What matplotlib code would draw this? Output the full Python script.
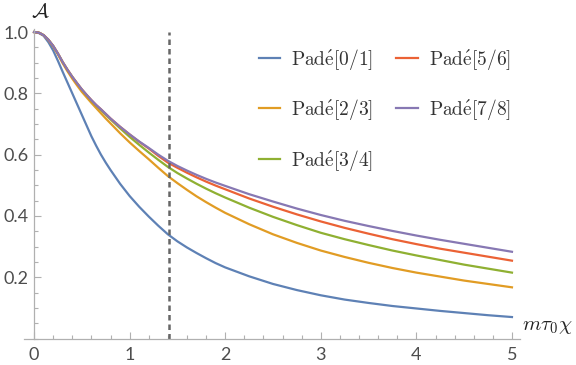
import numpy as np
import matplotlib
matplotlib.use("Agg")
import matplotlib.pyplot as plt
from matplotlib.ticker import MultipleLocator

plt.rcParams['mathtext.fontset'] = 'cm'

# values
x_vals = [0.0, 0.05, 0.1, 0.15, 0.2, 0.25, 0.3, 0.35, 0.4, 0.45, 0.5, 0.55, 0.6, 0.65, 0.7, 0.75, 0.8,
          0.9,
          1.0, 1.1, 1.2, 1.3, 1.4, 1.5, 1.6, 1.7, 1.8, 1.9, 2.0,
          2.25, 2.5, 2.75, 3.0, 3.25, 3.5, 3.75, 4.0, 4.25, 4.5, 4.75, 5.0]

pade_0_1 = [1.0, 0.997, 0.988, 0.967, 0.940, 0.906, 0.870, 0.835, 0.800, 0.765, 0.730, 0.695, 0.660, 0.629, 0.600, 0.574, 0.550,
            0.505,
            0.465, 0.430, 0.398, 0.368, 0.340, 0.317, 0.297, 0.279, 0.262, 0.246, 0.232,
            0.203, 0.178, 0.158, 0.141, 0.127, 0.116, 0.106, 0.098, 0.090, 0.083, 0.076, 0.070]
pade_2_3 = [1.0, 0.998, 0.990, 0.974, 0.953, 0.927, 0.898, 0.872, 0.848, 0.826, 0.805, 0.787, 0.769, 0.752, 0.735, 0.718, 0.702,
            0.670,
            0.640, 0.612, 0.585, 0.557, 0.530, 0.507, 0.485, 0.464, 0.445, 0.427, 0.410,
            0.373, 0.340, 0.312, 0.287, 0.266, 0.247, 0.230, 0.215, 0.202, 0.189, 0.178, 0.167]
pade_3_4 = [1.0, 0.998, 0.990, 0.975, 0.955, 0.930, 0.902, 0.877, 0.854, 0.833, 0.812, 0.794, 0.776, 0.760, 0.745, 0.730, 0.715,
            0.686,
            0.658, 0.632, 0.607, 0.583, 0.560, 0.540, 0.522, 0.505, 0.489, 0.474, 0.460,
            0.427, 0.397, 0.370, 0.345, 0.324, 0.305, 0.287, 0.271, 0.256, 0.241, 0.228, 0.215]
pade_5_6 = [1.0, 0.998, 0.990, 0.975, 0.955, 0.930, 0.902, 0.877, 0.854, 0.833, 0.813, 0.795, 0.778, 0.762, 0.748, 0.733, 0.718,
            0.691,
            0.666, 0.642, 0.620, 0.596, 0.574, 0.557, 0.541, 0.526, 0.512, 0.499, 0.487,
            0.457, 0.430, 0.405, 0.382, 0.361, 0.342, 0.324, 0.308, 0.293, 0.280, 0.267, 0.254]
pade_7_8 = [1.0, 0.998, 0.990, 0.975, 0.955, 0.930, 0.902, 0.877, 0.854, 0.833, 0.813, 0.795, 0.778, 0.762, 0.748, 0.733, 0.718,
            0.691,
            0.666, 0.643, 0.622, 0.600, 0.580, 0.563, 0.548, 0.534, 0.521, 0.509, 0.498,
            0.471, 0.447, 0.424, 0.403, 0.384, 0.367, 0.351, 0.336, 0.322, 0.309, 0.296, 0.283]

orders = ['0/1', '2/3', '3/4', '5/6', '7/8']
series = [pade_0_1, pade_2_3, pade_3_4, pade_5_6, pade_7_8]
colors = ['#5E81B5', '#E19C24', '#8FB032', '#EB6235', '#8778B3']

dashed_x = 1.414
x_ticks = [0, 1, 2, 3, 4, 5]
y_ticks = [0.2, 0.4, 0.6, 0.8, 1.0]

fig = plt.figure(figsize=(5.76, 3.65), dpi=100)
ax = fig.add_axes([24 / 576, 1 - 338.5 / 365, 496 / 576, 309.5 / 365])

for ys, order, c in zip(series, orders, colors):
    mlab = r'$\mathrm{Pad}\acute{\mathrm{e}}\mathrm{[' + order + r']}$'
    ax.plot(x_vals, ys, color=c, lw=1.6, label=mlab, solid_joinstyle='round')

ax.axvline(dashed_x, ymin=0, ymax=1.0 / 1.01, color='#666666', lw=1.8,
           linestyle=(0, (2.2, 1.6)))

ax.set_xlim(-0.105, 5.084)
ax.set_ylim(0, 1.01)

for s in ['top', 'right']:
    ax.spines[s].set_visible(False)
ax.spines['left'].set_position(('data', 0))
ax.spines['bottom'].set_position(('data', 0))
for s in ['left', 'bottom']:
    ax.spines[s].set_color('#b0b0b0')
    ax.spines[s].set_linewidth(0.9)

ax.set_xticks(x_ticks)
ax.set_yticks(y_ticks)
ax.set_yticklabels([f'{v:.1f}' for v in y_ticks])
ax.xaxis.set_minor_locator(MultipleLocator(0.2))
ax.yaxis.set_minor_locator(MultipleLocator(0.05))
ax.tick_params(which='both', direction='in', color='#b0b0b0', width=0.8,
               labelsize=13, labelcolor='#4d4d4d')
ax.tick_params(which='major', length=5)
ax.tick_params(which='minor', length=3)
ax.tick_params(axis='x', pad=6)
ax.tick_params(axis='y', pad=4)
for t in ax.get_xticklabels() + ax.get_yticklabels():
    t.set_fontfamily('Lato')

fig.text(40 / 576, 1 - 12 / 365, r'$\mathcal{A}$', fontsize=15,
         ha='center', va='center', color='#222222')
fig.text(522 / 576, 1 - 326 / 365, r'$m\tau_0\chi$', fontsize=15,
         ha='left', va='center', color='#222222')

leg = ax.legend(loc='upper left', bbox_to_anchor=(259 / 576, 1 - 47 / 365),
                bbox_transform=fig.transFigure, ncol=2, frameon=False,
                fontsize=14, handlelength=1.1, handletextpad=0.55,
                columnspacing=1.2, labelspacing=1.3, borderpad=0,
                borderaxespad=0)
for t in leg.get_texts():
    t.set_color('#333333')

fig.savefig('out.png', dpi=100)
